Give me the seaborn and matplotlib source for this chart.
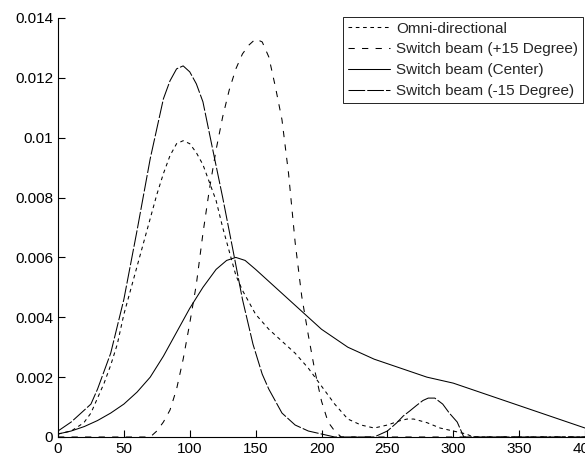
import matplotlib
matplotlib.use("Agg")
import matplotlib.pyplot as plt
import seaborn as sns
import pandas as pd

# values
labels = ["Omni-directional", "Switch beam (+15 Degree)",
          "Switch beam (Center)", "Switch beam (-15 Degree)"]

omni_x = [0, 10, 17, 20, 25, 30, 35, 40, 45, 50, 55, 60, 65, 70, 75, 80, 85, 90, 95,
          100, 105, 110, 115, 120, 125, 130, 135, 140, 145, 150, 160, 170, 175, 180,
          190, 200, 210, 220, 230, 240, 250, 260, 265, 270, 280, 290, 300, 310, 315, 400]
omni_y = [0.0001, 0.0002, 0.0004, 0.0005, 0.0008, 0.0013, 0.0018, 0.0024, 0.0031,
          0.0041, 0.0049, 0.0057, 0.0065, 0.0073, 0.0081, 0.0088, 0.0094, 0.0098,
          0.0099, 0.0098, 0.0095, 0.0091, 0.0085, 0.0079, 0.0070, 0.0062, 0.0054,
          0.0049, 0.0045, 0.0041, 0.0036, 0.0032, 0.0030, 0.0028, 0.0023, 0.0017,
          0.0011, 0.0006, 0.0004, 0.0003, 0.0004, 0.00055, 0.0006, 0.0006, 0.00048,
          0.0003, 0.0002, 0.0001, 0.0, 0.0]

plus15_x = [0, 70, 75, 80, 85, 90, 95, 100, 105, 110, 115, 120, 125, 130, 135,
            140, 145, 150, 155, 160, 165, 170, 175, 180, 185, 190, 195, 200, 205,
            210, 215, 400]
plus15_y = [0.0, 0.0, 0.0002, 0.0005, 0.0009, 0.0016, 0.0026, 0.0038, 0.0051,
            0.0068, 0.0083, 0.0096, 0.0107, 0.0116, 0.0123, 0.0128, 0.0131, 0.0133,
            0.0132, 0.0127, 0.0117, 0.0106, 0.0088, 0.0065, 0.0047, 0.0034, 0.0022,
            0.0012, 0.0005, 0.0002, 0.0, 0.0]

center_x = [0, 10, 20, 30, 40, 50, 60, 70, 80, 90, 100, 110, 120, 128, 135, 142,
            150, 160, 170, 180, 190, 200, 220, 240, 260, 280, 300, 320, 340, 360,
            380, 400]
center_y = [0.0001, 0.0002, 0.00035, 0.00055, 0.0008, 0.0011, 0.0015, 0.002, 0.0027,
            0.0035, 0.0043, 0.0050, 0.0056, 0.0059, 0.0060, 0.0059, 0.0056, 0.0052,
            0.0048, 0.0044, 0.0040, 0.0036, 0.0030, 0.0026, 0.0023, 0.0020, 0.0018,
            0.0015, 0.0012, 0.0009, 0.0006, 0.0003]

minus15_x = [0, 10, 20, 25, 30, 40, 50, 60, 70, 80, 85, 90, 95, 100, 105, 110, 117,
             125, 133, 140, 148, 155, 160, 170, 180, 190, 200, 210, 240, 245, 250,
             257, 262, 267, 272, 277, 281, 286, 292, 297, 303, 308, 400]
minus15_y = [0.0002, 0.0005, 0.0009, 0.0011, 0.0016, 0.0028, 0.0046, 0.0069, 0.0093,
             0.0113, 0.0119, 0.0123, 0.0124, 0.0122, 0.0118, 0.0112, 0.0097, 0.0080,
             0.0062, 0.0046, 0.0031, 0.0021, 0.0016, 0.0008, 0.0004, 0.0002, 0.0001,
             0.0, 0.0, 0.0001, 0.0002, 0.00047, 0.0007, 0.00087, 0.00105, 0.00122,
             0.0013, 0.0013, 0.0011, 0.0008, 0.0005, 0.0, 0.0]

xticks = [0, 50, 100, 150, 200, 250, 300, 350, 400]
yticks = [0, 0.002, 0.004, 0.006, 0.008, 0.01, 0.012, 0.014]
ytick_labels = ["0", "0.002", "0.004", "0.006", "0.008", "0.01", "0.012", "0.014"]

frames = []
for name, xs, ys in zip(labels,
                        [omni_x, plus15_x, center_x, minus15_x],
                        [omni_y, plus15_y, center_y, minus15_y]):
    frames.append(pd.DataFrame({"x": xs, "y": ys, "series": name}))
df = pd.concat(frames, ignore_index=True)

sns.set_style("ticks")
plt.rcParams['font.family'] = ['Liberation Sans', 'DejaVu Sans']
plt.rcParams['font.size'] = 11

fig = plt.figure(figsize=(5.85, 4.57), dpi=100)
ax = fig.add_axes([58/585, 1 - 437/457, 1 - 58/585, (437 - 18)/457])

dash_styles = {labels[0]: (3.5, 3.5),
               labels[1]: (6, 7),
               labels[2]: "",
               labels[3]: (16, 2)}
sns.lineplot(data=df, x="x", y="y", hue="series", style="series",
             hue_order=labels, style_order=labels,
             palette={n: "black" for n in labels}, dashes=dash_styles,
             estimator=None, sort=False, linewidth=0.75, legend=False, ax=ax)

ax.set_xlim(0, 400)
ax.set_ylim(0, 0.014)
ax.set_xticks(xticks)
ax.set_xticklabels([str(t) for t in xticks])
ax.set_yticks(yticks)
ax.set_yticklabels(ytick_labels)
ax.set_xlabel("")
ax.set_ylabel("")
ax.tick_params(direction="in", length=5, width=0.8, labelsize=11, colors="black")
sns.despine(ax=ax, top=True, right=True)
for s in ["left", "bottom"]:
    ax.spines[s].set_linewidth(0.8)
    ax.spines[s].set_color("black")

leg = ax.legend(ax.lines, labels, loc="upper right",
                bbox_to_anchor=(583/585, 1 - 17/457), bbox_transform=fig.transFigure,
                borderaxespad=0, fancybox=False, framealpha=1, edgecolor="black",
                fontsize=11, handlelength=2.8, handletextpad=0.4,
                labelspacing=0.45, borderpad=0.3)
leg.get_frame().set_linewidth(0.6)

fig.savefig("out.png", dpi=100)
